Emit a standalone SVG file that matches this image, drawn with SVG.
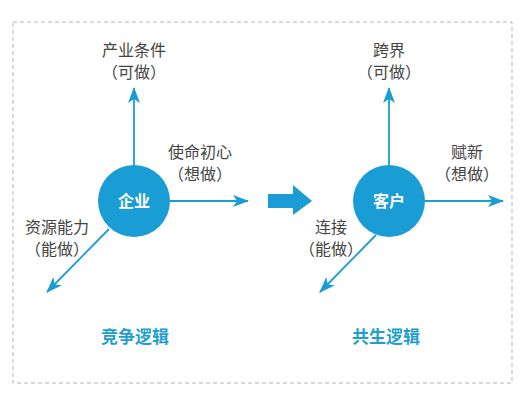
<svg xmlns="http://www.w3.org/2000/svg" width="525" height="400" viewBox="0 0 525 400">
<defs>
<style>
.lbl{font-family:"Liberation Sans","Noto Sans CJK SC",sans-serif;font-size:16px;fill:#444;text-anchor:middle}
.node{font-family:"Liberation Sans","Noto Sans CJK SC",sans-serif;font-size:16px;font-weight:bold;fill:#fff;text-anchor:middle}
.title{font-family:"Liberation Sans","Noto Sans CJK SC",sans-serif;font-size:17px;font-weight:bold;fill:#1f9fcf;text-anchor:middle}
.ln{stroke:#1a9cd4;stroke-width:1.8;fill:none;marker-end:url(#ah)}
</style>
<marker id="ah" viewBox="0 0 16 12" refX="15" refY="6" markerWidth="16" markerHeight="12" markerUnits="userSpaceOnUse" orient="auto">
<path d="M0,0 L16,6 L0,12 L4,6 Z" fill="#1a9cd4"/>
</marker>
</defs>
<rect width="525" height="400" fill="#fff"/>
<rect x="13" y="22" width="499" height="361" fill="none" stroke="#b5b5b5" stroke-width="1" stroke-dasharray="4,3"/>
<g id="connectors">
<line class="ln" x1="134" y1="165" x2="134" y2="88"/>
<line class="ln" x1="170" y1="201" x2="248" y2="201"/>
<line class="ln" x1="109" y1="229" x2="47" y2="292"/>
<line class="ln" x1="389" y1="165" x2="389" y2="88"/>
<line class="ln" x1="425" y1="201" x2="503" y2="201"/>
<line class="ln" x1="376" y1="235" x2="320" y2="292"/>
<path d="M268,194 L293,194 L293,185 L312,201 L293,215 L293,208 L268,208 Z" fill="#1a9cd4"/>
</g>
<g id="qiye">
<circle cx="134" cy="201" r="36" fill="#1a9cd4"/>
<text class="node" x="134" y="207">企业</text>
</g>
<g id="kehu">
<circle cx="389" cy="201" r="36" fill="#1a9cd4"/>
<text class="node" x="389" y="207">客户</text>
</g>
<g id="labels-left">
<text class="lbl" x="134" y="56">产业条件</text>
<text class="lbl" x="134" y="78">（可做）</text>
<text class="lbl" x="200" y="158">使命初心</text>
<text class="lbl" x="200" y="180">（想做）</text>
<text class="lbl" x="57" y="233">资源能力</text>
<text class="lbl" x="57" y="255">（能做）</text>
<text class="title" x="135" y="343">竞争逻辑</text>
</g>
<g id="labels-right">
<text class="lbl" x="389" y="56">跨界</text>
<text class="lbl" x="389" y="78">（可做）</text>
<text class="lbl" x="467" y="158">赋新</text>
<text class="lbl" x="467" y="180">（想做）</text>
<text class="lbl" x="331" y="233">连接</text>
<text class="lbl" x="331" y="255">（能做）</text>
<text class="title" x="386" y="343">共生逻辑</text>
</g>
</svg>
